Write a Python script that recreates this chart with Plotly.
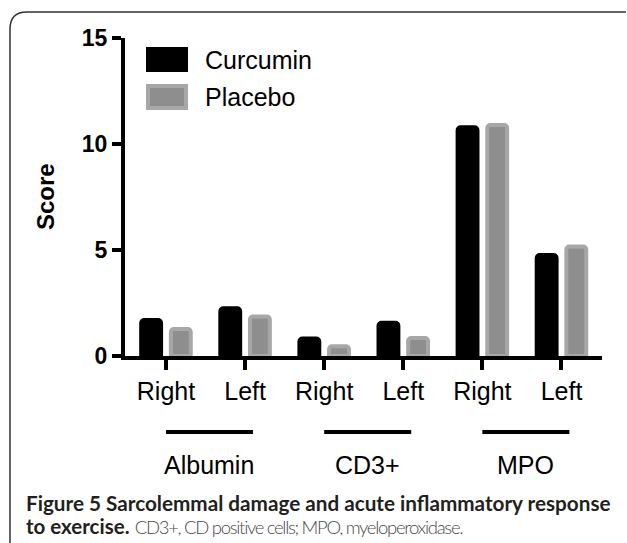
import plotly.graph_objects as go

# ---- data ----
groups = ["Albumin", "CD3+", "MPO"]
sides = ["Right", "Left"]
tick_labels = [s for g in groups for s in sides]
curcumin = [1.70, 2.25, 0.82, 1.57, 10.79, 4.76]
placebo = [1.27, 1.86, 0.46, 0.85, 10.90, 5.16]
y_ticks = [0, 5, 10, 15]

x_pos = list(range(len(tick_labels)))

W, H = 627, 543
L, R, T, B = 125, 25, 38, 187
PW, PH = W - L - R, H - T - B

def px(x):
    return (x - L) / PW

def py(y):
    return 1 - (y - T) / PH

FONT = "Arial, Liberation Sans, sans-serif"
CAP_FONT = "Lato, Open Sans, sans-serif"

fig = go.Figure()
fig.add_trace(go.Bar(x=x_pos, y=curcumin, name="Curcumin",
                     marker=dict(color="#000000", line=dict(color="#000000", width=4), cornerradius=3)))
fig.add_trace(go.Bar(x=x_pos, y=placebo, name="Placebo",
                     marker=dict(color="#8e8e8e", line=dict(color="#a7a7a7", width=4), cornerradius=3)))

shapes = []
annotations = []

# legend (manual, large swatches)
shapes.append(dict(type="rect", xref="paper", yref="paper",
                   x0=px(146), x1=px(188), y0=py(72), y1=py(47),
                   fillcolor="#000000", line=dict(width=0)))
shapes.append(dict(type="rect", xref="paper", yref="paper",
                   x0=px(148), x1=px(186), y0=py(108), y1=py(86),
                   fillcolor="#8e8e8e", line=dict(color="#a7a7a7", width=4)))
annotations.append(dict(text="Curcumin", xref="paper", yref="paper", x=px(203), y=py(60),
                        xanchor="left", yanchor="middle", showarrow=False,
                        font=dict(family=FONT, size=25, color="#000")))
annotations.append(dict(text="Placebo", xref="paper", yref="paper", x=px(203), y=py(97),
                        xanchor="left", yanchor="middle", showarrow=False,
                        font=dict(family=FONT, size=25, color="#000")))

# group lines and labels
for gi, g in enumerate(groups):
    c = gi * 2 + 0.5 + 0.05
    shapes.append(dict(type="line", xref="x", yref="paper", x0=c - 0.55, x1=c + 0.55,
                       y0=py(432), y1=py(432), line=dict(color="#000", width=4)))
    annotations.append(dict(text=g, xref="x", yref="paper", x=c, y=py(465),
                            xanchor="center", yanchor="middle", showarrow=False,
                            font=dict(family=FONT, size=25, color="#000")))

# y axis title
annotations.append(dict(text="<b>Score</b>", xref="paper", yref="paper", x=px(45), y=py(197),
                        xanchor="center", yanchor="middle", textangle=-90, showarrow=False,
                        font=dict(family=FONT, size=24, color="#000")))

# frame (rounded, open to right/bottom)
r = 17
x0, y0 = 10, 12
path = (f"M {px(x0)} {py(545)} L {px(x0)} {py(y0 + r)} "
        f"Q {px(x0)} {py(y0)} {px(x0 + r)} {py(y0)} L {px(626)} {py(y0)}")
shapes.append(dict(type="path", xref="paper", yref="paper", path=path,
                   line=dict(color="#333333", width=1.5)))

# caption
annotations.append(dict(text="<b>Figure 5 Sarcolemmal damage and acute inflammatory response</b>",
                        xref="paper", yref="paper", x=px(24), y=py(503),
                        xanchor="left", yanchor="middle", showarrow=False,
                        font=dict(family=CAP_FONT, size=20.7, color="#231f20")))
annotations.append(dict(text="<b>to exercise.</b> <span style='color:#4a4a4a;font-weight:300;font-size:18.5px;letter-spacing:-1.3px'>CD3+, CD positive cells; MPO, myeloperoxidase.</span>",
                        xref="paper", yref="paper", x=px(24), y=py(526),
                        xanchor="left", yanchor="middle", showarrow=False,
                        font=dict(family=CAP_FONT, size=20.5, color="#231f20")))

fig.update_layout(
    width=W, height=H,
    margin=dict(l=L, r=R, t=T, b=B, pad=0),
    paper_bgcolor="white", plot_bgcolor="white",
    barmode="group", bargap=0.25, bargroupgap=0.33,
    showlegend=False,
    shapes=shapes, annotations=annotations,
    xaxis=dict(range=[-0.518, -0.518 + PW / 79.1], tickvals=x_pos, ticktext=tick_labels,
               showline=True, linecolor="#000", linewidth=4, ticks="outside",
               ticklen=10, tickwidth=4, tickcolor="#000", showgrid=False, zeroline=False,
               tickfont=dict(family=FONT, size=25, color="#000")),
    yaxis=dict(range=[0, 15], tickvals=y_ticks, showline=True, linecolor="#000", linewidth=4,
               ticks="outside", ticklen=9, tickwidth=4, tickcolor="#000", showgrid=False,
               zeroline=False,
               tickfont=dict(family=FONT, size=23, color="#000", weight="bold")),
)

fig.write_html("out.html", config={"displayModeBar": False},
               post_script="document.body.style.margin='0';document.body.style.overflow='hidden';")
